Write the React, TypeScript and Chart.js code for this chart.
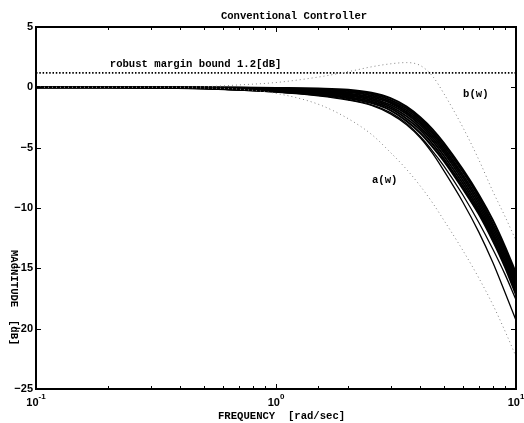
import { useEffect, useRef } from 'react';
import { Chart, registerables } from 'chart.js';

Chart.register(...registerables);

// Frequencies [rad/sec] at which the curves were read
const FREQ = [0.1, 0.2, 0.3, 0.5, 0.7, 1, 1.5, 2, 2.5, 3, 3.5, 4, 4.5, 5, 6, 7, 8, 9, 10];

// Family of closed-loop magnitude curves [dB] (solid)
const CURVE_1 = [0, 0, 0, 0, -0.02, -0.05, -0.1, -0.2, -0.45, -0.9, -1.6, -2.5, -3.5, -4.6, -6.8, -8.9, -11.0, -13.2, -15.4];
const CURVE_2 = [0, 0, 0, -0.01, -0.04, -0.09, -0.17, -0.3, -0.55, -1.05, -1.75, -2.65, -3.7, -4.8, -7.0, -9.1, -11.3, -13.4, -15.6];
const CURVE_3 = [0, 0, 0, -0.02, -0.06, -0.13, -0.24, -0.4, -0.68, -1.18, -1.9, -2.8, -3.85, -5.0, -7.25, -9.35, -11.55, -13.65, -15.85];
const CURVE_4 = [0, 0, -0.01, -0.03, -0.08, -0.17, -0.31, -0.5, -0.8, -1.3, -2.05, -2.95, -4.05, -5.2, -7.45, -9.6, -11.8, -13.9, -16.1];
const CURVE_5 = [0, 0, -0.01, -0.05, -0.11, -0.22, -0.39, -0.6, -0.92, -1.45, -2.2, -3.15, -4.25, -5.4, -7.7, -9.85, -12.05, -14.15, -16.35];
const CURVE_6 = [0, 0, -0.01, -0.06, -0.14, -0.26, -0.46, -0.7, -1.05, -1.6, -2.4, -3.35, -4.45, -5.65, -7.95, -10.1, -12.25, -14.4, -16.6];
const CURVE_7 = [0, 0, -0.02, -0.08, -0.17, -0.3, -0.53, -0.8, -1.18, -1.75, -2.6, -3.55, -4.7, -5.9, -8.2, -10.3, -12.5, -14.65, -16.9];
const CURVE_8 = [0, 0, -0.02, -0.1, -0.2, -0.35, -0.6, -0.9, -1.3, -1.9, -2.8, -3.8, -4.95, -6.1, -8.4, -10.5, -12.7, -14.9, -17.2];
const CURVE_9 = [0, 0, -0.03, -0.1, -0.21, -0.37, -0.66, -1.0, -1.45, -2.1, -3.0, -4.1, -5.3, -6.5, -8.9, -11.2, -13.4, -15.5, -17.6];
const CURVE_10 = [0, 0, -0.03, -0.11, -0.22, -0.39, -0.7, -1.05, -1.5, -2.2, -3.1, -4.2, -5.5, -6.9, -9.5, -12.0, -14.5, -17.0, -19.3];

// Bounds (dotted)
const BOUND_A = [0, 0, 0, -0.05, -0.15, -0.5, -1.4, -2.6, -3.9, -5.4, -6.8, -8.2, -9.6, -11.0, -13.5, -15.8, -18.0, -20.2, -22.3];
const BOUND_B = [0, 0, 0.01, 0.05, 0.2, 0.4, 0.85, 1.3, 1.7, 1.95, 2.05, 1.8, 0.9, -0.5, -3.3, -6.0, -8.6, -10.7, -12.7];

// Robust margin bound
const MARGIN_FREQ = [0.1, 10];
const MARGIN_DB = [1.2, 1.2];

// Axis ticks
const Y_TICKS = [-25, -20, -15, -10, -5, 0, 5];
const X_DECADES = [0.1, 1, 10];
const X_EXPONENTS = ['-1', '0', '1'];

const TITLE = 'Conventional Controller';
const X_TITLE = 'FREQUENCY  [rad/sec]';
const Y_TITLE = 'MAGNITUDE  [dB]';
const MARGIN_LABEL = 'robust margin bound 1.2[dB]';
const A_LABEL = 'a(w)';
const B_LABEL = 'b(w)';

const MONO = "bold 10.6px 'Liberation Mono', 'DejaVu Sans Mono', monospace";
const SANS = "'Liberation Sans', 'DejaVu Sans', sans-serif";

const toPts = (xs: number[], ys: number[]) => xs.map((x, i) => ({ x, y: ys[i] }));

const decorPlugin = {
  id: 'decor',
  afterDraw(chart: any) {
    const { ctx, chartArea: ca, scales } = chart;
    const xs = scales.x;
    const ys = scales.y;
    ctx.save();
    // frame
    ctx.strokeStyle = '#000';
    ctx.lineWidth = 2;
    ctx.strokeRect(ca.left, ca.top, ca.right - ca.left, ca.bottom - ca.top);
    // inward ticks
    ctx.lineWidth = 1;
    ctx.beginPath();
    Y_TICKS.forEach((v) => {
      const py = Math.round(ys.getPixelForValue(v)) + 0.5;
      ctx.moveTo(ca.left, py);
      ctx.lineTo(ca.left + 5, py);
      ctx.moveTo(ca.right - 5, py);
      ctx.lineTo(ca.right, py);
    });
    xs.ticks.forEach((t: any) => {
      const v = t.value;
      const lg = Math.log10(v);
      const major = Math.abs(lg - Math.round(lg)) < 1e-6;
      const len = major ? 5 : 3;
      const px = Math.round(xs.getPixelForValue(v)) + 0.5;
      ctx.moveTo(px, ca.bottom);
      ctx.lineTo(px, ca.bottom - len);
      ctx.moveTo(px, ca.top);
      ctx.lineTo(px, ca.top + len);
    });
    ctx.stroke();

    // x tick labels 10^k
    ctx.fillStyle = '#000';
    ctx.textBaseline = 'alphabetic';
    ctx.textAlign = 'left';
    X_DECADES.forEach((v, i) => {
      const px = xs.getPixelForValue(v);
      ctx.font = `bold 11px ${SANS}`;
      const w10 = ctx.measureText('10').width;
      ctx.font = `bold 8px ${SANS}`;
      const we = ctx.measureText(X_EXPONENTS[i]).width;
      const x0 = px - (w10 + we) / 2;
      ctx.font = `bold 11px ${SANS}`;
      ctx.fillText('10', x0, ca.bottom + 17);
      ctx.font = `bold 8px ${SANS}`;
      ctx.fillText(X_EXPONENTS[i], x0 + w10, ca.bottom + 10);
    });

    // titles
    ctx.font = MONO;
    ctx.textAlign = 'center';
    ctx.fillText(TITLE, (ca.left + ca.right) / 2 + 18, 18.5);
    ctx.textAlign = 'left';
    ctx.fillText(X_TITLE, 218, ca.bottom + 30);
    ctx.save();
    ctx.translate(10.5, 250);
    ctx.rotate(Math.PI / 2);
    ctx.fillText(Y_TITLE, 0, 0);
    ctx.restore();

    // annotations (data coordinates)
    ctx.fillText(MARGIN_LABEL, xs.getPixelForValue(0.203), ys.getPixelForValue(1.65));
    ctx.fillText(B_LABEL, xs.getPixelForValue(6.02), ys.getPixelForValue(-0.83));
    ctx.fillText(A_LABEL, xs.getPixelForValue(2.51), ys.getPixelForValue(-7.93));
    ctx.restore();
  },
};

export default function App() {
  const ref = useRef<HTMLCanvasElement>(null);
  useEffect(() => {
    if (!ref.current) return;
    const curves = [CURVE_1, CURVE_2, CURVE_3, CURVE_4, CURVE_5, CURVE_6, CURVE_7, CURVE_8, CURVE_9, CURVE_10];
    const solid = curves.map((c, i) => ({
      label: `curve ${i + 1}`,
      data: toPts(FREQ, c),
      borderColor: '#000',
      borderWidth: i < 8 ? 2 : 1.3,
      pointRadius: 0,
      cubicInterpolationMode: 'monotone' as const,
    }));
    const dotted = [
      { label: 'a(w)', data: toPts(FREQ, BOUND_A) },
      { label: 'b(w)', data: toPts(FREQ, BOUND_B) },
    ].map((d) => ({
      ...d,
      borderColor: '#808080',
      borderWidth: 1,
      borderDash: [1, 3],
      pointRadius: 0,
      cubicInterpolationMode: 'monotone' as const,
    }));
    const margin = {
      label: 'robust margin bound',
      data: toPts(MARGIN_FREQ, MARGIN_DB),
      borderColor: '#000',
      borderWidth: 1.7,
      borderDash: [1.5, 1.8],
      pointRadius: 0,
    };
    const chart = new Chart(ref.current, {
      type: 'line',
      data: { datasets: [...dotted, margin, ...solid] as any },
      options: {
        animation: false,
        responsive: false,
        parsing: false as any,
        layout: { padding: { top: 27, right: 8, left: 0, bottom: 0 } },
        plugins: { legend: { display: false }, title: { display: false }, tooltip: { enabled: false } },
        scales: {
          x: {
            type: 'logarithmic',
            min: 0.1,
            max: 10,
            grid: { display: false, drawTicks: false },
            border: { display: false },
            ticks: { display: false, autoSkip: false },
            afterFit: (s: any) => {
              s.height = 34;
            },
          },
          y: {
            type: 'linear',
            min: -25,
            max: 5,
            grid: { display: false, drawTicks: false },
            border: { display: false },
            ticks: {
              stepSize: 5,
              padding: 3,
              color: '#000',
              font: { family: SANS, size: 11, weight: 'bold' },
              callback: (v: any) => String(v).replace('-', '\u2212'),
            },
            afterFit: (s: any) => {
              s.width = 36;
            },
          },
        },
      },
      plugins: [decorPlugin],
    });
    return () => chart.destroy();
  }, []);
  return (
    <div style={{ position: 'absolute', left: 0, top: 0, width: 524, height: 423, background: '#fff' }}>
      <canvas ref={ref} width={524} height={423} style={{ display: 'block' }} />
    </div>
  );
}
